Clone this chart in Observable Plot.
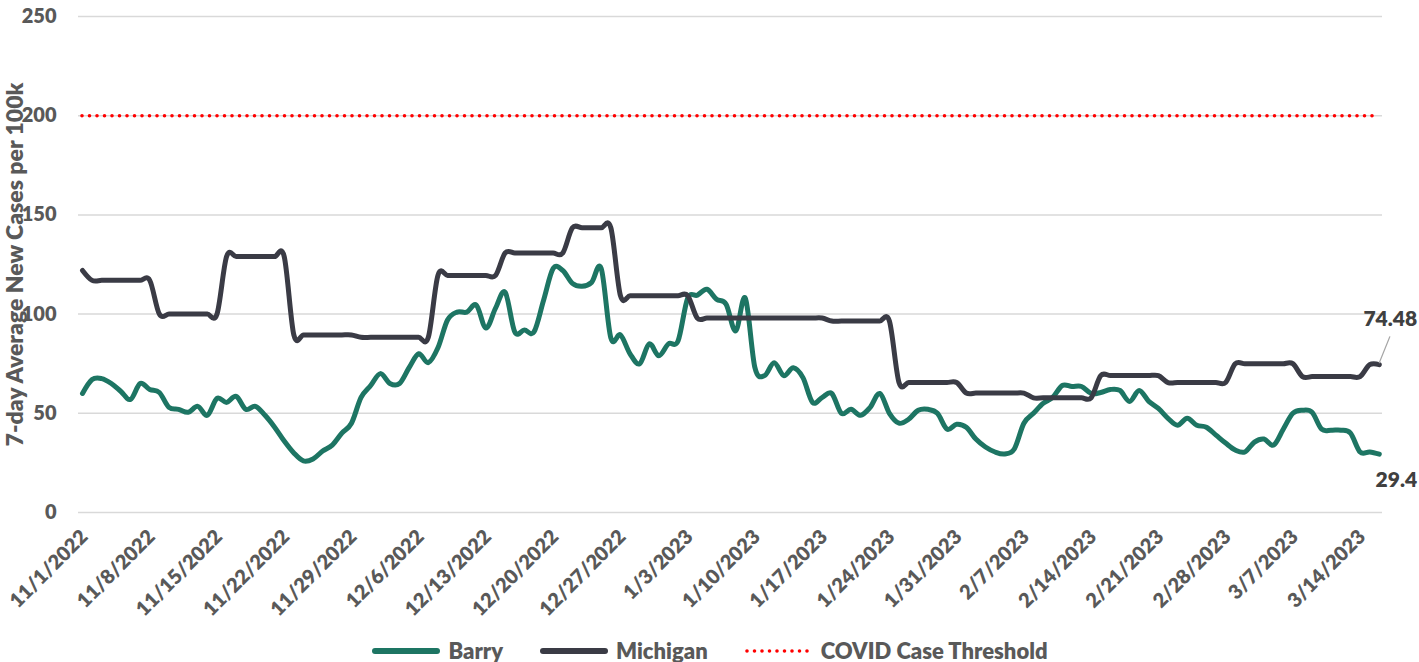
<!DOCTYPE html>
<html>
<head>
<meta charset="utf-8">
<script src="https://cdn.jsdelivr.net/npm/d3@7"></script>
<script src="https://cdn.jsdelivr.net/npm/@observablehq/plot@0.6"></script>
<style>
  body { margin: 0; background: #fff; font-family: Lato, "Open Sans", sans-serif; }
  #wrap { position: relative; width: 1419px; height: 662px; overflow: hidden; background: #fff; }
  #chart { position: absolute; left: 0; top: 0; }
  #legend { position: absolute; left: 0; top: 637px; width: 1419px; display: flex; justify-content: center; align-items: center; gap: 36px; font: 800 22px Lato, sans-serif; color: #595959; line-height: 28px; }
  .item { display: flex; align-items: center; gap: 7px; }
  .item svg { display: block; }
</style>
</head>
<body>
<div id="wrap">
  <div id="chart"></div>
  <div id="legend"></div>
</div>
<script>
// ---- data ----
const startDate = "2022-11-01";
const seriesNames = ["Barry", "Michigan"];
const seriesColors = ["#1D7563", "#3A3B45"];
const thresholdName = "COVID Case Threshold";
const thresholdColor = "#FF0000";
const threshold = 200;

const barry = [
  60, 67, 67.5, 65, 61, 57, 65, 62, 60.5, 53,
  52, 50.5, 53.5, 49, 57.5, 55.5, 58.5, 52, 53.5, 49,
  43, 36, 30, 26, 27, 31, 34, 40, 45, 58,
  64, 70, 65, 65, 73, 80, 75.5, 83, 97, 101,
  101, 104.5, 93, 103, 111, 91, 92, 91, 107, 123,
  122, 115.5, 114, 116, 123, 88, 89.5, 80, 75, 85,
  79, 85, 86.5, 108, 109.5, 112.5, 107.5, 105, 91.5, 108,
  73, 69, 75.5, 69, 73, 68, 55.5, 58, 60, 50,
  52, 49, 53, 60, 50, 45, 47, 51.5, 52, 50,
  42, 44.5, 43, 37, 33, 30.5, 29.5, 32, 45, 50,
  55, 58, 64, 63.5, 63.5, 60, 60.5, 62, 61.5, 56,
  61.5, 56, 52.5, 47.5, 44, 47.5, 44, 43, 39, 35,
  31.5, 30.5, 35.5, 37, 34, 42, 50, 51.5, 50.5, 42,
  41.5, 41.5, 40, 30.5, 30.5, 29.4
];

const michigan = [
  122, 117, 117, 117, 117, 117, 117, 117, 100, 100,
  100, 100, 100, 100, 100, 129, 129, 129, 129, 129,
  129, 129, 89.5, 89.5, 89.5, 89.5, 89.5, 89.5, 89.5, 88.3,
  88.3, 88.3, 88.3, 88.3, 88.3, 88.3, 88.3, 119.5, 119.5, 119.5,
  119.5, 119.5, 119.5, 119.5, 130.8, 130.8, 130.8, 130.8, 130.8, 130.8,
  130.8, 143.5, 143.5, 143.5, 143.5, 143.5, 109.3, 109.3, 109.3, 109.3,
  109.3, 109.3, 109.3, 109.3, 98, 98, 98, 98, 98, 98,
  98, 98, 98, 98, 98, 98, 98, 98, 96.5, 96.5,
  96.5, 96.5, 96.5, 96.5, 96.5, 65.5, 65.5, 65.5, 65.5, 65.5,
  65.5, 65.5, 60.2, 60.2, 60.2, 60.2, 60.2, 60.2, 60.2, 57.8,
  57.8, 57.8, 57.8, 57.8, 57.8, 57.8, 69, 69, 69, 69,
  69, 69, 69, 65.5, 65.5, 65.5, 65.5, 65.5, 65.5, 65.5,
  75, 75, 75, 75, 75, 75, 75, 68.5, 68.5, 68.5,
  68.5, 68.5, 68.5, 68.5, 74.48, 74.48
];

const tickLabels = [
  "11/1/2022", "11/8/2022", "11/15/2022", "11/22/2022", "11/29/2022",
  "12/6/2022", "12/13/2022", "12/20/2022", "12/27/2022", "1/3/2023",
  "1/10/2023", "1/17/2023", "1/24/2023", "1/31/2023", "2/7/2023",
  "2/14/2023", "2/21/2023", "2/28/2023", "3/7/2023", "3/14/2023"
];
const yTicks = [0, 50, 100, 150, 200, 250];
const yTitle = "7-day Average New Cases per 100k";

// ---- build table ----
const start = d3.utcParse("%Y-%m-%d")(startDate);
const dates = barry.map((_, i) => d3.utcDay.offset(start, i));
const lastDate = dates[dates.length - 1];
const rows = [
  ...barry.map((v, i) => ({ date: dates[i], value: v, series: seriesNames[0] })),
  ...michigan.map((v, i) => ({ date: dates[i], value: v, series: seriesNames[1] }))
];
const tickDates = tickLabels.map(d3.utcParse("%-m/%-d/%Y"));
const lastMi = { date: lastDate, value: michigan[michigan.length - 1] };
const lastBa = { date: lastDate, value: barry[barry.length - 1] };

const leader = {
  draw(context, l) { context.moveTo(0, 0); context.lineTo(0, -l); }
};

const chart = Plot.plot({
  width: 1419,
  height: 620,
  marginLeft: 78,
  marginRight: 37,
  marginTop: 16,
  marginBottom: 108,
  style: { fontFamily: "Lato, sans-serif", fontWeight: "800", fontSize: "20px", color: "#595959", background: "#fff" },
  x: { type: "utc", domain: [d3.utcHour.offset(start, -10), d3.utcHour.offset(lastDate, 8)] },
  y: { domain: [0, 250] },
  color: { domain: seriesNames, range: seriesColors },
  marks: [
    Plot.ruleY(yTicks, { stroke: "#D9D9D9", strokeWidth: 1.5 }),
    Plot.ruleY([threshold], { x1: start, x2: lastDate, stroke: thresholdColor, strokeWidth: 3.6, strokeDasharray: "0,7.5", strokeLinecap: "round" }),
    Plot.line(rows, { x: "date", y: "value", z: "series", stroke: "series", strokeWidth: 5, curve: "cardinal", strokeLinejoin: "round", strokeLinecap: "round" }),
    Plot.axisY(yTicks, { tickSize: 0, tickPadding: 22, label: null, fontSize: 20, fontWeight: "800" }),
    Plot.text([yTitle], { frameAnchor: "left", textAnchor: "middle", rotate: -90, dx: -63, fontSize: 23, fontWeight: "800", fill: "#595959" }),
    Plot.axisX(tickDates, { tickSize: 0, tickRotate: -45, tickPadding: 21, dx: 2, tickFormat: (d, i) => tickLabels[i], label: null, fontSize: 20, fontWeight: "800" }),
    Plot.vector([lastMi], { x: "date", y: "value", length: 28, rotate: 22, anchor: "start", shape: leader, dy: -2, stroke: "#A6A6A6", strokeWidth: 1.2 }),
    Plot.text([lastMi], { x: "date", y: "value", text: d => String(d.value), dx: 11, dy: -45, fill: "#404040", fontSize: 21, fontWeight: "800" }),
    Plot.text([lastBa], { x: "date", y: "value", text: d => String(d.value), dx: 17, dy: 26, fill: "#404040", fontSize: 21, fontWeight: "800" })
  ]
});
document.getElementById("chart").appendChild(chart);

// ---- legend ----
const legend = document.getElementById("legend");
function addItem(name, swatchSvg) {
  const it = document.createElement("div");
  it.className = "item";
  it.innerHTML = swatchSvg + `<span>${name}</span>`;
  legend.appendChild(it);
}
seriesNames.forEach((n, i) => {
  addItem(n, `<svg width="70" height="10"><line x1="4" y1="5" x2="66" y2="5" stroke="${seriesColors[i]}" stroke-width="6" stroke-linecap="round"/></svg>`);
});
addItem(thresholdName, `<svg width="70" height="10"><line x1="3" y1="5" x2="68" y2="5" stroke="${thresholdColor}" stroke-width="3.6" stroke-dasharray="0,7.5" stroke-linecap="round"/></svg>`);
</script>
</body>
</html>
